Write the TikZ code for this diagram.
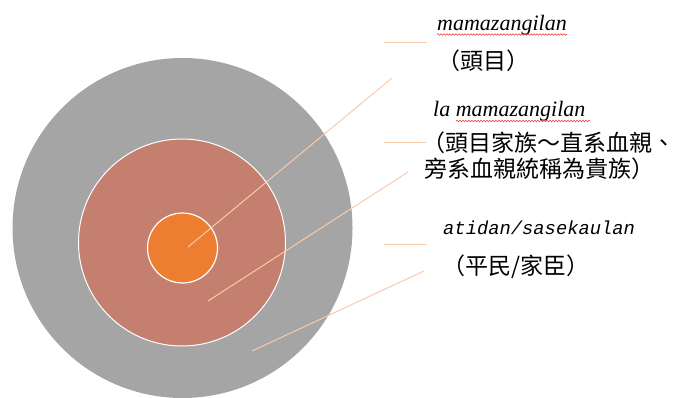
\documentclass[tikz,border=0pt]{standalone}
\usepackage{fontspec}
\setmainfont{Liberation Serif}
\setmonofont{Liberation Mono}
\newfontfamily\cjk{Noto Sans CJK TC}
\usetikzlibrary{decorations.pathmorphing}
\definecolor{outergray}{HTML}{A5A5A5}
\definecolor{midrose}{HTML}{C47F6E}
\definecolor{coreorange}{HTML}{ED7D31}
\definecolor{leadercol}{HTML}{F8CBAD}
\definecolor{spellred}{HTML}{F04040}
\tikzset{
  ring/.style={circle, inner sep=0pt, outer sep=0pt},
  leaderline/.style={draw=leadercol, line width=1pt},
  latinlbl/.style={anchor=base west, inner sep=0pt, font=\fontsize{22}{26}\selectfont\itshape},
  monolbl/.style={anchor=base west, inner sep=0pt, font=\fontsize{18.8}{22}\selectfont\ttfamily\itshape},
  cjklbl/.style={anchor=base west, inner sep=0pt, font=\fontsize{23}{28}\selectfont\cjk},
  wavy/.style={draw=spellred, line width=0.6pt, decorate, decoration={snake, amplitude=0.8pt, segment length=3pt}}
}
\begin{document}
\begin{tikzpicture}[x=1pt, y=-1pt]
\useasboundingbox (0,0) rectangle (676,398);
% circles
\node[ring, fill=outergray, minimum size=340pt] (outer) at (182.5,228) {};
\node[ring, fill=midrose, draw=white, line width=1pt, minimum size=207pt] (mid) at (182,242.5) {};
\node[ring, fill=coreorange, draw=white, line width=1.2pt, minimum size=70pt] (core) at (182.5,248) {};
% leader coordinates
\coordinate (l1s) at (188,247);
\coordinate (l1e) at (392,78);
\coordinate (h1a) at (384,43);
\coordinate (h1b) at (427,43);
\coordinate (l2s) at (208,301);
\coordinate (l2e) at (408,172);
\coordinate (h2a) at (384,143);
\coordinate (h2b) at (426,143);
\coordinate (l3s) at (252,351);
\coordinate (l3e) at (424,271);
\coordinate (h3a) at (384,244);
\coordinate (h3b) at (426,244);
\draw[leaderline] (l1s) -- (l1e);
\draw[leaderline] (h1a) -- (h1b);
\draw[leaderline] (l2s) -- (l2e);
\draw[leaderline] (h2a) -- (h2b);
\draw[leaderline] (l3s) -- (l3e);
\draw[leaderline] (h3a) -- (h3b);
% labels
\node[latinlbl] (t1) at (437,31) {mamazangilan};
\coordinate (w1a) at (437,34.5);
\coordinate (w1b) at (567,34.5);
\draw[wavy] (w1a) -- (w1b);
\node[cjklbl] (c1) at (437,70) {（頭目）};
\node[latinlbl] (t2) at (433,117) {la mamazangilan};
\coordinate (w2a) at (456,121);
\coordinate (w2b) at (590,121);
\draw[wavy] (w2a) -- (w2b);
\node[cjklbl] (c2a) at (422,151.5) {（頭目家族～直系血親、};
\node[cjklbl] (c2b) at (424,177.5) {旁系血親統稱為貴族）};
\node[monolbl] (t3) at (443,234) {atidan/sasekaulan};
\node[cjklbl] (c3) at (442,274) {（平民/家臣）};
\end{tikzpicture}
\end{document}
